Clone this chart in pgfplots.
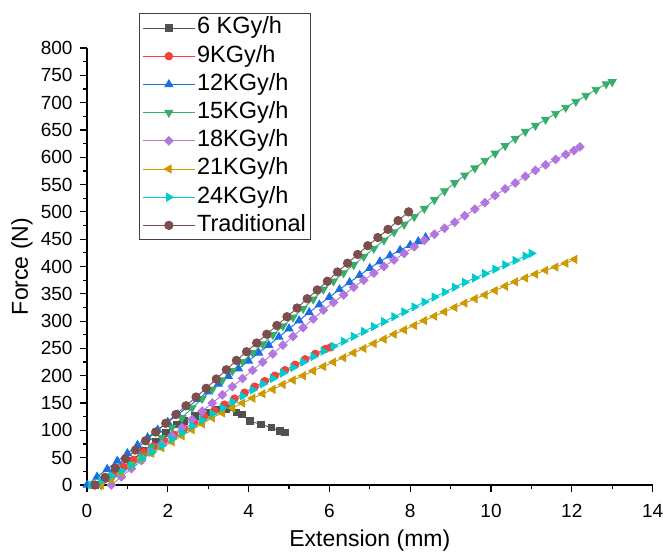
\documentclass[border=0pt]{standalone}
\usepackage{fontspec}
\setmainfont{Liberation Sans}
\usepackage{pgfplots}
\pgfplotsset{compat=1.18}

\definecolor{OGray}{HTML}{515151}
\definecolor{ORed}{HTML}{F14040}
\definecolor{OBlue}{HTML}{1A6FDF}
\definecolor{OGreen}{HTML}{37AD6B}
\definecolor{OPurple}{HTML}{B177DE}
\definecolor{OGold}{HTML}{CC9900}
\definecolor{OCyan}{HTML}{00CBCC}
\definecolor{OBrown}{HTML}{7D4E4E}

\begin{document}
\begin{tikzpicture}
\path[use as bounding box] (-87pt,-68pt) rectangle (576pt,485pt);
\begin{axis}[
  at={(0pt,0pt)}, anchor=south west,
  scale only axis,
  width=565.6pt, height=437pt,
  xmin=0, xmax=14, ymin=0, ymax=800,
  xtick={0,2,...,14}, ytick={0,50,...,800},
  minor x tick num=1, minor y tick num=1,
  axis lines*=left,
  tick pos=left,
  tick align=outside,
  major tick length=7pt, minor tick length=4pt,
  axis line style={line width=1.2pt, black},
  every tick/.style={line width=1.2pt, black},
  clip=false,
  /pgf/number format/assume math mode=true,
  ticklabel style={font=\fontsize{19}{22}\selectfont},
  xticklabel style={yshift=-9pt},
  yticklabel style={xshift=-4pt},
  xlabel={Extension (mm)}, ylabel={Force (N)},
  xlabel style={font=\fontsize{23}{27}\selectfont, at={(axis description cs:0.5,-0.126)}, anchor=center},
  ylabel style={font=\fontsize{23}{27}\selectfont, at={(axis description cs:-0.115,0.5)}, anchor=center},
  every axis plot/.append style={line width=0.9pt},
  legend style={at={(0.0919,1.080)}, anchor=north west,
    draw=black!75, line width=0.9pt, fill=white,
    inner xsep=3pt, inner ysep=2pt, row sep=3.2pt,
    font=\fontsize{23.5}{27}\selectfont,
    nodes={inner sep=1.7pt, text height=16.8pt, text depth=4.8pt},
    /tikz/every even column/.style={column sep=7pt}},
  legend cell align=left,
  legend image code/.code={\draw[mark repeat=2,mark phase=2] plot coordinates {(0pt,0pt) (26pt,0pt) (52pt,0pt)};},
]
% 6 KGy/h
\addplot[color=OGray, mark=square*, mark size=3.3pt, mark options={solid, fill=OGray, draw=OGray}] coordinates {
(0.2,0) (0.5,12) (0.8,27) (1.1,45) (1.4,62) (1.7,80) (1.95,95) (2.22,111) (2.4,117) (2.67,126)
(2.95,133) (3.21,138) (3.45,139) (3.70,133) (3.83,129) (4.03,117) (4.30,111) (4.57,105) (4.77,99) (4.9,96)};
\addlegendentry{6 KGy/h}
% 9KGy/h
\addplot[color=ORed, mark=*, mark size=3.8pt, mark options={solid, fill=ORed, draw=ORed}] coordinates {
(0.15,0) (0.40,10) (0.65,21) (0.90,33) (1.15,46) (1.40,60) (1.65,71) (1.90,81) (2.15,92) (2.40,103)
(2.65,114) (2.90,125) (3.15,136) (3.40,147) (3.65,158) (3.90,169) (4.15,180) (4.40,190) (4.65,200)
(4.90,210) (5.15,220) (5.40,230) (5.65,240) (5.90,249) (6.03,252)};
\addlegendentry{9KGy/h}
% 12KGy/h
\addplot[color=OBlue, mark=triangle*, mark size=4.5pt, mark options={solid, fill=OBlue, draw=OBlue}] coordinates {
(0.00,0) (0.25,15) (0.50,29) (0.75,44) (1.00,58) (1.25,73) (1.50,87) (1.75,101) (2.00,115) (2.25,129)
(2.50,143) (2.75,157) (3.00,171) (3.25,185) (3.50,199) (3.75,213) (4.00,227) (4.25,242) (4.50,256)
(4.75,271) (5.00,286) (5.25,301) (5.50,316) (5.75,330) (6.00,344) (6.25,358) (6.50,371) (6.75,384)
(7.00,397) (7.25,409) (7.50,420) (7.75,430) (8.00,439) (8.20,446) (8.38,453)};
\addlegendentry{12KGy/h}
% 15KGy/h
\addplot[color=OGreen, mark=triangle*, mark size=4.5pt, mark options={solid, rotate=180, fill=OGreen, draw=OGreen}] coordinates {
(0.35,0) (0.60,10) (0.85,23) (1.10,38) (1.35,54) (1.60,70) (1.85,87) (2.10,105) (2.35,123) (2.60,141)
(2.85,158) (3.10,175) (3.35,192) (3.60,209) (3.85,226) (4.10,242) (4.35,258) (4.60,275) (4.85,291)
(5.10,307) (5.35,323) (5.60,340) (5.85,358) (6.10,373) (6.35,388) (6.60,403) (6.85,418) (7.10,433)
(7.35,448) (7.60,463) (7.85,477) (8.10,491) (8.35,506) (8.60,522) (8.85,538) (9.10,553) (9.35,567)
(9.60,580) (9.85,594) (10.10,607) (10.35,621) (10.60,634) (10.85,647) (11.10,658) (11.35,669)
(11.60,680) (11.85,691) (12.10,702) (12.35,713) (12.60,724) (12.85,734) (13.00,738)};
\addlegendentry{15KGy/h}
% 18KGy/h
\addplot[color=OPurple, mark=square*, mark size=3pt, mark options={solid, rotate=45, fill=OPurple, draw=OPurple}] coordinates {
(0.60,0) (0.85,15) (1.10,30) (1.35,45) (1.60,60) (1.85,75) (2.10,90) (2.35,105) (2.60,120) (2.85,135)
(3.10,150) (3.35,165) (3.60,180) (3.85,195) (4.10,210) (4.35,225) (4.60,240) (4.85,256) (5.10,272)
(5.35,288) (5.60,304) (5.85,320) (6.10,334) (6.35,348) (6.60,362) (6.85,375) (7.10,388) (7.35,400)
(7.60,412) (7.85,424) (8.10,436) (8.35,448) (8.60,459) (8.85,470) (9.10,481) (9.35,493) (9.60,505)
(9.85,517) (10.10,530) (10.35,542) (10.60,553) (10.85,565) (11.10,576) (11.35,586) (11.60,596)
(11.85,605) (12.05,612) (12.20,619)};
\addlegendentry{18KGy/h}
% 21KGy/h
\addplot[color=OGold, mark=triangle*, mark size=4.5pt, mark options={solid, rotate=90, fill=OGold, draw=OGold}] coordinates {
(0.35,0) (0.60,10) (0.85,22) (1.10,35) (1.35,47) (1.60,58) (1.85,68) (2.10,79) (2.35,90) (2.60,101)
(2.85,112) (3.10,123) (3.35,132) (3.60,141) (3.85,150) (4.10,159) (4.35,167) (4.60,175) (4.85,184)
(5.10,192) (5.35,200) (5.60,209) (5.85,217) (6.10,225) (6.35,233) (6.60,242) (6.85,250) (7.10,259)
(7.35,267) (7.60,276) (7.85,284) (8.10,292) (8.35,301) (8.60,309) (8.85,317) (9.10,325) (9.35,333)
(9.60,341) (9.85,348) (10.10,356) (10.35,364) (10.60,372) (10.85,379) (11.10,386) (11.35,393)
(11.60,399) (11.85,406) (12.07,413)};
\addlegendentry{21KGy/h}
% 24KGy/h
\addplot[color=OCyan, mark=triangle*, mark size=4.5pt, mark options={solid, rotate=270, fill=OCyan, draw=OCyan}] coordinates {
(0.10,0) (0.35,8) (0.60,17) (0.85,26) (1.10,36) (1.35,48) (1.60,60) (1.85,72) (2.10,84) (2.35,96)
(2.60,108) (2.85,119) (3.10,130) (3.35,141) (3.60,152) (3.85,163) (4.10,174) (4.35,185) (4.60,195)
(4.85,205) (5.10,215) (5.35,225) (5.60,235) (5.85,245) (6.10,254) (6.35,263) (6.60,272) (6.85,281)
(7.10,290) (7.35,299) (7.60,308) (7.85,317) (8.10,326) (8.35,335) (8.60,344) (8.85,353) (9.10,362)
(9.35,371) (9.60,379) (9.85,387) (10.10,395) (10.35,403) (10.60,411) (10.85,419) (11.00,424)};
\addlegendentry{24KGy/h}
% Traditional
\addplot[color=OBrown, mark=*, mark size=4.2pt, mark options={solid, fill=OBrown, draw=OBrown}] coordinates {
(0.20,0) (0.45,14) (0.70,31) (0.95,48) (1.20,64) (1.45,81) (1.70,97) (1.95,113) (2.20,129) (2.45,145)
(2.70,161) (2.95,177) (3.20,194) (3.45,211) (3.70,228) (3.95,244) (4.20,260) (4.45,276) (4.70,292)
(4.95,308) (5.20,324) (5.45,341) (5.70,357) (5.95,373) (6.20,390) (6.45,406) (6.70,422) (6.95,438)
(7.20,453) (7.45,468) (7.70,484) (7.96,500)};
\addlegendentry{Traditional}
\end{axis}
\end{tikzpicture}
\end{document}
